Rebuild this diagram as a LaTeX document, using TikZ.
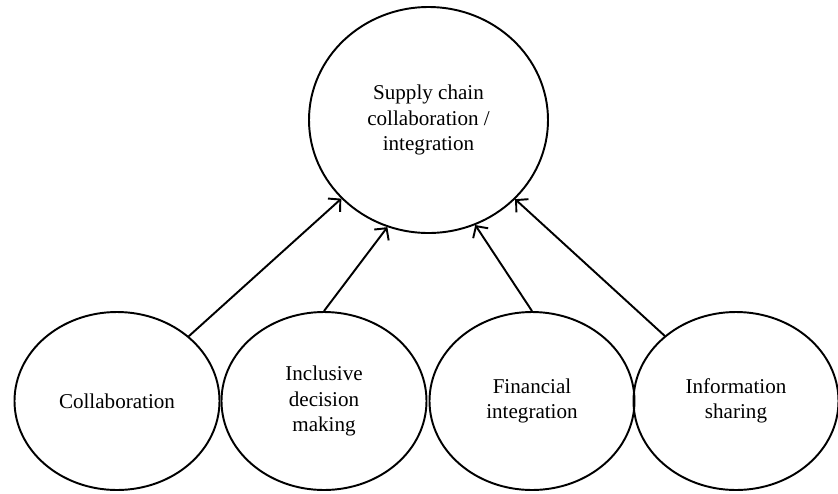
\documentclass[tikz,border=0pt]{standalone}
\usepackage{fontspec}
\setmainfont{Liberation Serif}
\usetikzlibrary{positioning,shapes,arrows.meta}

\begin{document}
\begin{tikzpicture}[line width=1.1pt]
\tikzstyle{every node}+=[font=\fontsize{12}{14.3}\selectfont, align=center, inner sep=0pt]
\tikzstyle{bubble}=[draw, ellipse, minimum width=4.1cm, minimum height=3.56cm]
\tikzstyle{link}=[-{Straight Barb[length=1.7mm,width=3.6mm]}]
\useasboundingbox (0,0) rectangle (16.76,-9.86);
\node [draw, ellipse, minimum width=4.78cm, minimum height=4.52cm] (scc) at (8.57,-2.40) {Supply chain\\collaboration /\\integration};
\node [bubble] (collab) at (2.34,-8.02) {Collaboration};
\node [bubble] (incl) at (6.48,-8.02) {Inclusive\\decision\\making};
\node [bubble] (fin) at (10.64,-8.02) {Financial\\integration};
\node [bubble] (info) at (14.72,-8.02) {Information\\sharing};
\draw [link] (collab) -- (scc);
\draw [link] (incl.north) -- (scc.-111);
\draw [link] (fin.north) -- (scc.-66);
\draw [link] (info) -- (scc);
\end{tikzpicture}
\end{document}
